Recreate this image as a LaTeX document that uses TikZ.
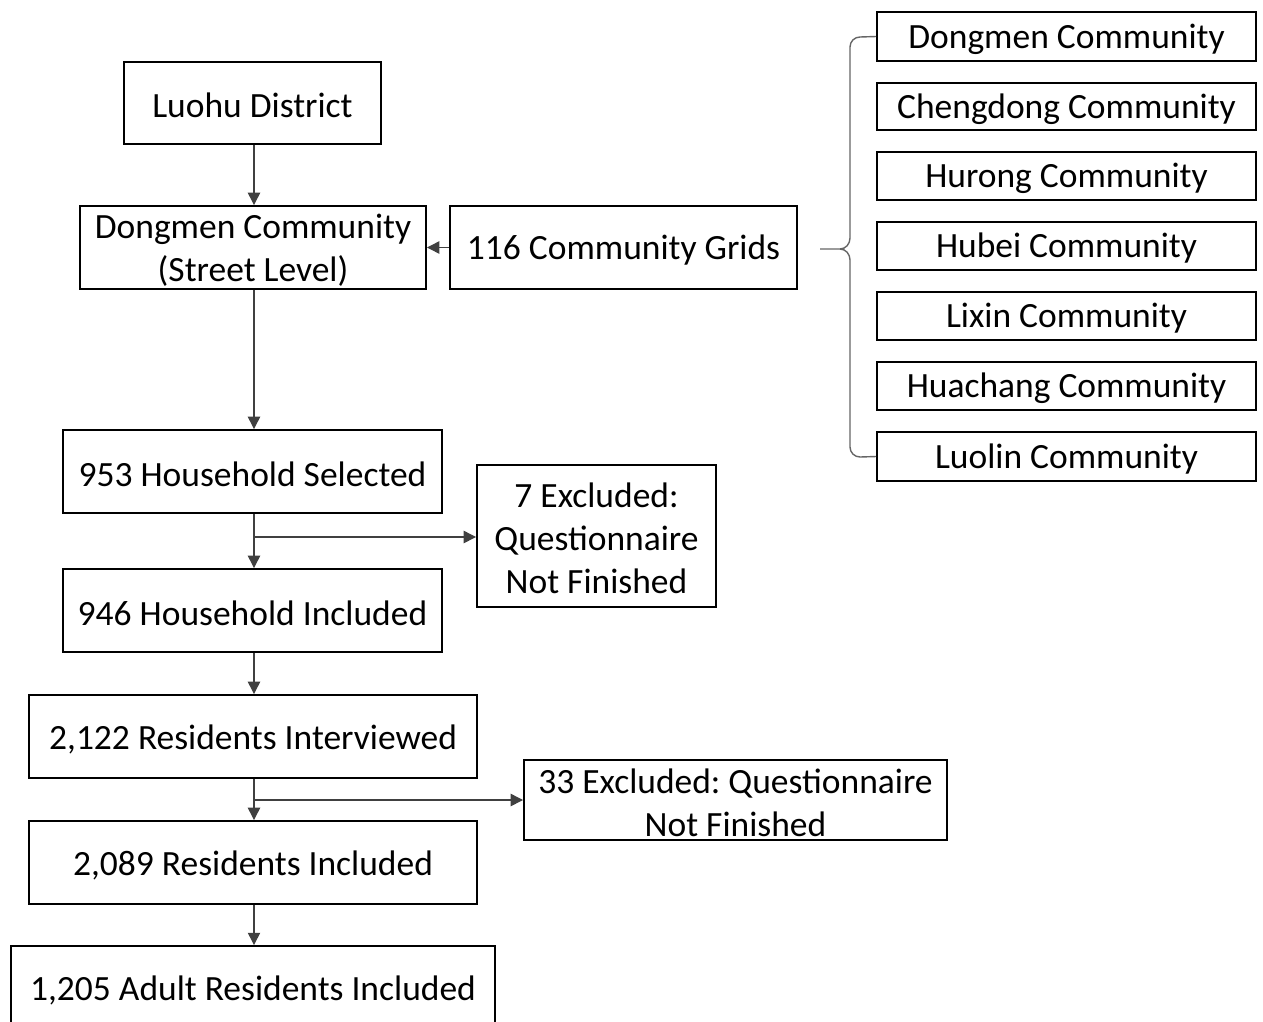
\documentclass[tikz,border=0pt]{standalone}
\usepackage{fontspec}
\setmainfont{Carlito}
\frenchspacing
\usetikzlibrary{arrows.meta}
\tikzset{
  box/.style={draw=black, line width=1.1pt, inner sep=0pt},
  txt/.style={align=center, inner sep=0pt, font=\fontsize{20.2}{24.5}\selectfont, text=black},
  conn/.style={draw=black!75, line width=0.75pt, -{Triangle[length=7pt,width=7pt]}},
  bracepath/.style={draw=black!60, line width=0.8pt}
}
\newcommand\pxbox[6]{%
  \node[box, minimum width={(#4-#2)*0.02cm}, minimum height={(#5-#3)*0.02cm}] (#1) at ({(#2+#4)/2},{(#3+#5)/2}) {};
  \node[txt] (#1-t) at ([yshift=-0.05cm]#1.center) {#6};}
\begin{document}
\begin{tikzpicture}[x=0.02cm,y=-0.02cm]
\useasboundingbox (0,0) rectangle (1263,1021);
\pxbox{luohu}{124}{62}{381}{144}{Luohu District}
\pxbox{dongmen}{80}{206}{426}{289}{Dongmen Community\\(Street Level)}
\pxbox{grids}{450}{206}{797}{289}{116 Community Grids}
\pxbox{sel}{63}{430}{442}{513}{953 Household Selected}
\pxbox{exa}{477}{465}{716}{607}{7 Excluded:\\Questionnaire\\Not Finished}
\pxbox{inc}{63}{569}{442}{652}{946 Household Included}
\pxbox{intv}{29}{695}{477}{778}{2,122 Residents Interviewed}
\pxbox{exb}{524}{760}{947}{840}{33 Excluded: Questionnaire\\Not Finished}
\pxbox{rinc}{29}{821}{477}{904}{2,089 Residents Included}
\pxbox{adult}{11}{946}{495}{1030}{1,205 Adult Residents Included}
\pxbox{c1}{877}{12}{1256}{61}{Dongmen Community}
\pxbox{c2}{877}{83}{1256}{130}{Chengdong Community}
\pxbox{c3}{877}{152}{1256}{200}{Hurong Community}
\pxbox{c4}{877}{222}{1256}{270}{Hubei Community}
\pxbox{c5}{877}{292}{1256}{340}{Lixin Community}
\pxbox{c6}{877}{362}{1256}{410}{Huachang Community}
\pxbox{c7}{877}{432}{1256}{481}{Luolin Community}
% connectors
\draw[conn] (luohu.south -| 254,0) -- (dongmen.north -| 254,0);
\draw[conn] (grids.west) -- (dongmen.east);
\draw[conn] (dongmen.south -| 254,0) -- (sel.north -| 254,0);
\draw[conn] (sel.south -| 254,0) -- (inc.north -| 254,0);
\coordinate (ba) at (254,537);
\draw[conn] (ba) -- (ba -| exa.west);
\draw[conn] (inc.south -| 254,0) -- (intv.north -| 254,0);
\draw[conn] (intv.south -| 254,0) -- (rinc.north -| 254,0);
\coordinate (bb) at (254,800);
\draw[conn] (bb) -- (bb -| exb.west);
\draw[conn] (rinc.south -| 254,0) -- (adult.north -| 254,0);
% brace
\coordinate (tip) at (820,249);
\draw[bracepath] (c1.west) -- (860,37) to[out=180,in=90] (850,47) -- (850,238)
  to[out=-90,in=0] (840,249) -- (tip);
\draw[bracepath] (840,249) to[out=0,in=90] (850,260) -- (850,447)
  to[out=-90,in=180] (860,457) -- (c7.west);
\end{tikzpicture}
\end{document}
